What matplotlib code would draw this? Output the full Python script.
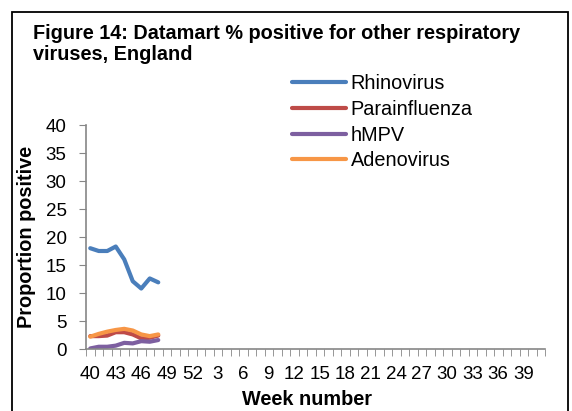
import matplotlib.pyplot as plt
from matplotlib.patches import Rectangle

plt.rcParams["font.family"] = ["Liberation Sans", "DejaVu Sans"]

# weeks 40..52 then 1..41 (the last two slots carry no label)
weeks = list(range(40, 53)) + list(range(1, 42))
tick_labels = [str(w) if i % 3 == 0 else "" for i, w in enumerate(weeks)]

rhinovirus = [18.0, 17.5, 17.5, 18.3, 16.0, 12.1, 10.8, 12.6, 11.9]
parainfluenza = [2.3, 2.3, 2.4, 3.0, 3.0, 2.6, 1.9, 2.0, 2.4]
hmpv = [0.1, 0.4, 0.4, 0.6, 1.1, 1.0, 1.4, 1.3, 1.6]
adenovirus = [2.2, 2.7, 3.1, 3.4, 3.6, 3.3, 2.6, 2.3, 2.6]

series = [
    ("Rhinovirus", rhinovirus, "#4a7ebb"),
    ("Parainfluenza", parainfluenza, "#be4b48"),
    ("hMPV", hmpv, "#7d5fa0"),
    ("Adenovirus", adenovirus, "#f79646"),
]

fig = plt.figure(figsize=(5.72, 4.11), dpi=100)
ax = fig.add_axes([86 / 572, 62 / 411, 459 / 572, 224 / 411])

x = list(range(len(weeks)))
for name, vals, col in series:
    ax.plot(x[:len(vals)], vals, color=col, lw=3, label=name,
            solid_capstyle="round")

ax.set_xlim(-0.5, len(weeks) - 0.5)
ax.set_ylim(0, 40)
ax.set_yticks(range(0, 41, 5))
ax.set_xticks([i - 0.5 for i in x] + [len(weeks) - 0.5], minor=True)
ax.set_xticks(x)
ax.set_xticklabels(tick_labels)
ax.tick_params(axis="x", which="major", length=0, pad=12, labelsize=13.5)
ax.tick_params(axis="x", which="minor", length=5, color="#868686", direction="out")
ax.tick_params(axis="y", length=5, color="#868686", labelsize=13.5, pad=9)
for s in ["top", "right"]:
    ax.spines[s].set_visible(False)
for s in ["left", "bottom"]:
    ax.spines[s].set_color("#868686")
    ax.spines[s].set_linewidth(1.2)

ax.set_ylabel("Proportion positive", fontsize=14.3, fontweight="bold")
ax.yaxis.set_label_coords(-50 / 459, 0.5)
ax.set_xlabel("Week number", fontsize=14.3, fontweight="bold", va="bottom")
ax.xaxis.set_label_coords((307 - 86) / 459, -(409 - 349) / 224)

ax.legend(loc="upper left", bbox_to_anchor=(292 / 572, 1 - 74 / 411),
          bbox_transform=fig.transFigure, frameon=False, fontsize=14.3,
          handlelength=2.7, handletextpad=0.25, labelspacing=0.34,
          borderaxespad=0, borderpad=0)

fig.text(33 / 572, 1 - 24 / 411, "Figure 14: Datamart % positive for other respiratory\nviruses, England",
         fontsize=14.3, fontweight="bold", va="top", ha="left", linespacing=1.15)

fig.patches.append(Rectangle((12 / 572, -20 / 411), 556 / 572, 419 / 411,
                             transform=fig.transFigure, fill=False,
                             edgecolor="black", lw=1.3))

fig.savefig("out.png", dpi=100)
